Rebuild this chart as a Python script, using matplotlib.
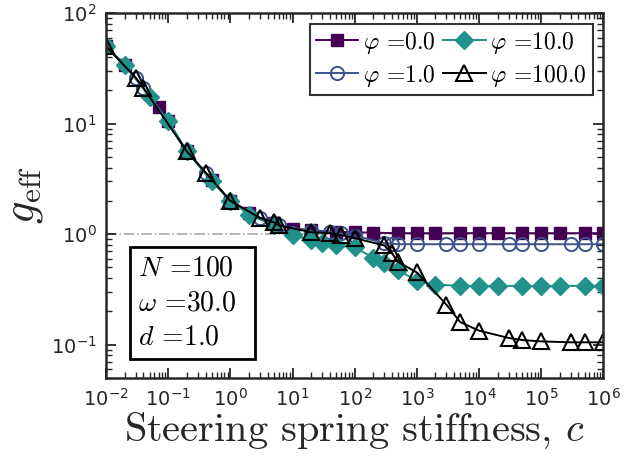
import matplotlib
matplotlib.use("Agg")
import matplotlib.pyplot as plt
from matplotlib.font_manager import FontProperties
import numpy as np

# data
c_sq = [0.01, 0.02, 0.07, 0.1, 0.2, 0.5, 1, 2, 5, 10, 20, 50, 100, 200, 500,
        1e3, 2e3, 5e3, 1e4, 2e4, 5e4, 1e5, 2e5, 5e5, 1e6]
g_phi0 = [50, 34, 14, 10.5, 5.6, 3.1, 2.0, 1.55, 1.25, 1.12, 1.08, 1.05, 1.04, 1.03, 1.02,
          1.02, 1.02, 1.02, 1.02, 1.02, 1.02, 1.02, 1.02, 1.02, 1.02]

c_tri = [0.01, 0.03, 0.04, 0.2, 0.4, 1, 3, 5, 6, 20, 40, 60, 100, 300, 400, 500,
         1e3, 3e3, 5e3, 1e4, 3e4, 5e4, 1e5, 3e5, 5e5, 1e6]
g_phi1 = [50, 26, 21, 5.6, 3.6, 2.0, 1.4, 1.27, 1.2, 1.07, 1.05, 1.02, 0.97, 0.83, 0.82, 0.81,
          0.81, 0.81, 0.81, 0.81, 0.81, 0.81, 0.81, 0.81, 0.81, 0.81]
g_phi100 = [50, 26, 21, 5.6, 3.6, 2.0, 1.4, 1.28, 1.2, 1.04, 1.02, 0.98, 0.92, 0.79, 0.67, 0.56,
            0.45, 0.23, 0.16, 0.134, 0.115, 0.11, 0.107, 0.105, 0.105, 0.105]

c_dia = [0.01, 0.02, 0.05, 0.1, 0.2, 0.5, 1, 2, 5, 10, 20, 30, 50, 100, 200, 300, 500,
         1e3, 2e3, 5e3, 1e4, 2e4, 5e4, 1e5, 2e5, 5e5, 1e6]
g_phi10 = [50, 34, 17.5, 10.5, 5.6, 3.0, 2.0, 1.5, 1.2, 0.98, 0.88, 0.83, 0.79, 0.76, 0.61, 0.55, 0.47,
           0.38, 0.35, 0.34, 0.34, 0.34, 0.34, 0.34, 0.34, 0.34, 0.34]

labels = [r'$\varphi$ =0.0', r'$\varphi$ =1.0', r'$\varphi$ =10.0', r'$\varphi$ =100.0']

col_sq = '#440154'
col_ci = '#3b528b'
col_di = '#21918c'
col_tr = 'black'

def cmfont(size):
    return FontProperties(family='cmr10', math_fontfamily='cm', size=size)

fig = plt.figure(figsize=(6.39, 4.66), dpi=100)
ax = fig.add_axes([0.166, 0.189, 0.778, 0.783])

ax.axhline(1.0, color='#aaaaaa', lw=1.2, ls='-.', zorder=1)

ax.plot(c_sq, g_phi0, '-s', color=col_sq, mfc=col_sq, mec=col_sq, ms=9, lw=1.4, label=labels[0])
ax.plot(c_tri, g_phi1, '-o', color=col_ci, mfc='none', mec=col_ci, ms=9.5, mew=1.4, lw=1.4, label=labels[1])
ax.plot(c_dia, g_phi10, '-D', color=col_di, mfc=col_di, mec=col_di, ms=9, lw=1.4, label=labels[2])
ax.plot(c_tri, g_phi100, '-^', color=col_tr, mfc='none', mec=col_tr, ms=11, mew=1.5, lw=1.4, label=labels[3])

ax.set_xscale('log')
ax.set_yscale('log')
ax.set_xlim(1e-2, 1e6)
ax.set_ylim(0.05, 100)
ax.set_xticks([10.0**k for k in range(-2, 7)])
ax.set_yticks([10.0**k for k in range(-1, 3)])

for s in ax.spines.values():
    s.set_linewidth(1.8)
    s.set_color('#262626')
ax.tick_params(which='both', direction='in', top=True, right=True, color='#262626')
ax.tick_params(which='major', length=7, width=1.3, labelsize=14, pad=7, labelcolor='#262626')
ax.tick_params(which='minor', length=4, width=1.0)

ax.set_xlabel(r'Steering spring stiffness, $c$', fontproperties=cmfont(29), color='#262626', labelpad=0)
ax.set_ylabel(r'$g_{\mathrm{eff}}$', fontproperties=cmfont(32), color='#262626', labelpad=4)

leg = ax.legend(ncol=2, loc='upper right', prop=cmfont(17),
                frameon=True, fancybox=False, edgecolor='black', handlelength=1.8, handletextpad=0.2,
                columnspacing=0.3, borderpad=0.25, labelspacing=0.3, borderaxespad=0.45)
leg.get_frame().set_linewidth(1.5)

ax.text(0.065, 0.075, '$N$ =100\n$\\omega$ =30.0  \n$d$ =1.0', transform=ax.transAxes,
        fontproperties=cmfont(20), linespacing=1.4,
        va='bottom', ha='left',
        bbox=dict(boxstyle='square,pad=0.3', fc='white', ec='black', lw=2))

fig.savefig('out.png', dpi=100)
